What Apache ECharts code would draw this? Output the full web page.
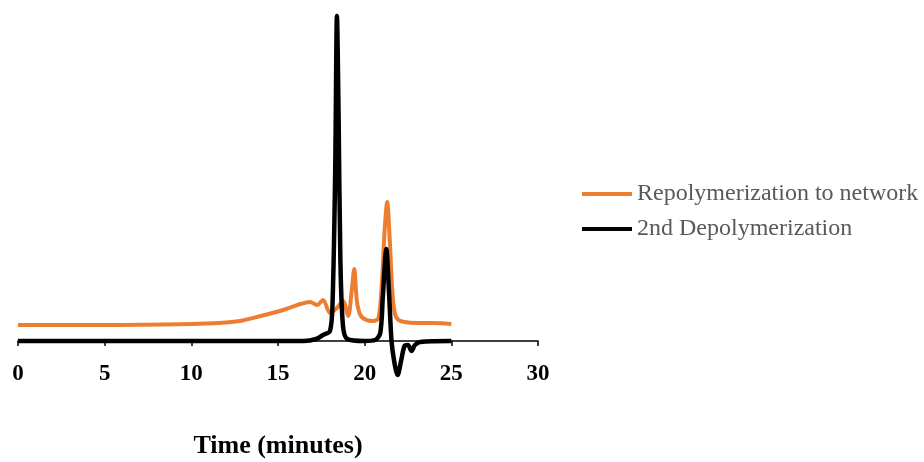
<!DOCTYPE html>
<html>
<head>
<meta charset="utf-8">
<script src="https://cdn.jsdelivr.net/npm/echarts@6/dist/echarts.min.js"></script>
<style>
  html, body { margin: 0; padding: 0; background: #fff; }
  #chart { width: 924px; height: 462px; }
</style>
</head>
<body>
<div id="chart"></div>
<script>
// repolymerization trace (orange)
var repolyTime = [0, 5, 10, 11.6, 12.8, 14, 15.1, 16.3, 16.85, 17.25, 17.6, 18.0, 18.4, 18.75, 19.05, 19.25, 19.4, 19.55, 19.75, 20.1, 20.5, 20.8, 21.0, 21.15, 21.3, 21.45, 21.6, 21.75, 21.95, 22.3, 23, 24, 25];
var repolySignal = [16, 16, 17, 18, 20, 25, 30, 37, 39, 36, 41, 28, 33, 40, 25, 50, 72, 40, 26, 21, 20, 23, 60, 110, 139, 100, 48, 27, 21, 19, 18, 18, 17];

// 2nd depolymerization trace (black)
var depolyTime = [0, 10, 16.5, 17.2, 17.6, 18.0, 18.15, 18.3, 18.4, 18.5, 18.6, 18.75, 19.0, 20, 20.6, 20.9, 21.05, 21.25, 21.4, 21.55, 21.7, 21.9, 22.1, 22.3, 22.5, 22.7, 22.9, 23.2, 25];
var depolySignal = [0, 0, 0, 2, 6, 10, 40, 170, 325, 220, 80, 15, 2, 0, 1, 8, 45, 92, 50, 0, -20, -34, -20, -5, -4, -10, -4, -1, 0];

var seriesNames = ['Repolymerization to network', '2nd Depolymerization'];
var xTicks = [0, 30, 5];

function pairs(xs, ys) {
  var out = [];
  for (var i = 0; i < xs.length; i++) out.push([xs[i], ys[i]]);
  return out;
}

var chart = echarts.init(document.getElementById('chart'));
var option = {
  animation: false,
  // grid bottom sits on the zero line, the dip below it is drawn unclipped
  grid: { left: 18, right: 386, top: 1, bottom: 121, outerBoundsMode: 'none', containLabel: false },
  legend: {
    orient: 'vertical',
    left: 577,
    top: 177,
    itemWidth: 50,
    itemHeight: 4,
    itemGap: 11,
    icon: 'rect',
    textStyle: { fontFamily: 'Liberation Serif', fontSize: 24, color: '#595959', lineHeight: 24 },
    data: seriesNames
  },
  xAxis: {
    type: 'value',
    min: xTicks[0],
    max: xTicks[1],
    interval: xTicks[2],
    splitLine: { show: false },
    axisLine: { onZero: false, lineStyle: { color: '#000', width: 1.5 } },
    axisTick: { show: true, length: 5, lineStyle: { color: '#000', width: 1.5 } },
    axisLabel: { margin: 22, fontFamily: 'Liberation Serif', fontWeight: 'bold', fontSize: 23, color: '#000' },
    name: 'Time (minutes)',
    nameLocation: 'middle',
    nameGap: 92,
    nameTextStyle: { fontFamily: 'Liberation Serif', fontWeight: 'bold', fontSize: 26, color: '#000' }
  },
  yAxis: {
    type: 'value',
    min: 0,
    max: 340,
    show: false
  },
  series: [{
    name: seriesNames[0],
    type: 'line',
    smooth: 0.3,
    clip: false,
    showSymbol: false,
    itemStyle: { color: '#ED7D31' },
    lineStyle: { color: '#ED7D31', width: 4 },
    data: pairs(repolyTime, repolySignal)
  }, {
    name: seriesNames[1],
    type: 'line',
    smooth: 0.3,
    clip: false,
    showSymbol: false,
    itemStyle: { color: '#000' },
    lineStyle: { color: '#000', width: 4.5 },
    data: pairs(depolyTime, depolySignal)
  }]
};
chart.setOption(option);
</script>
</body>
</html>
